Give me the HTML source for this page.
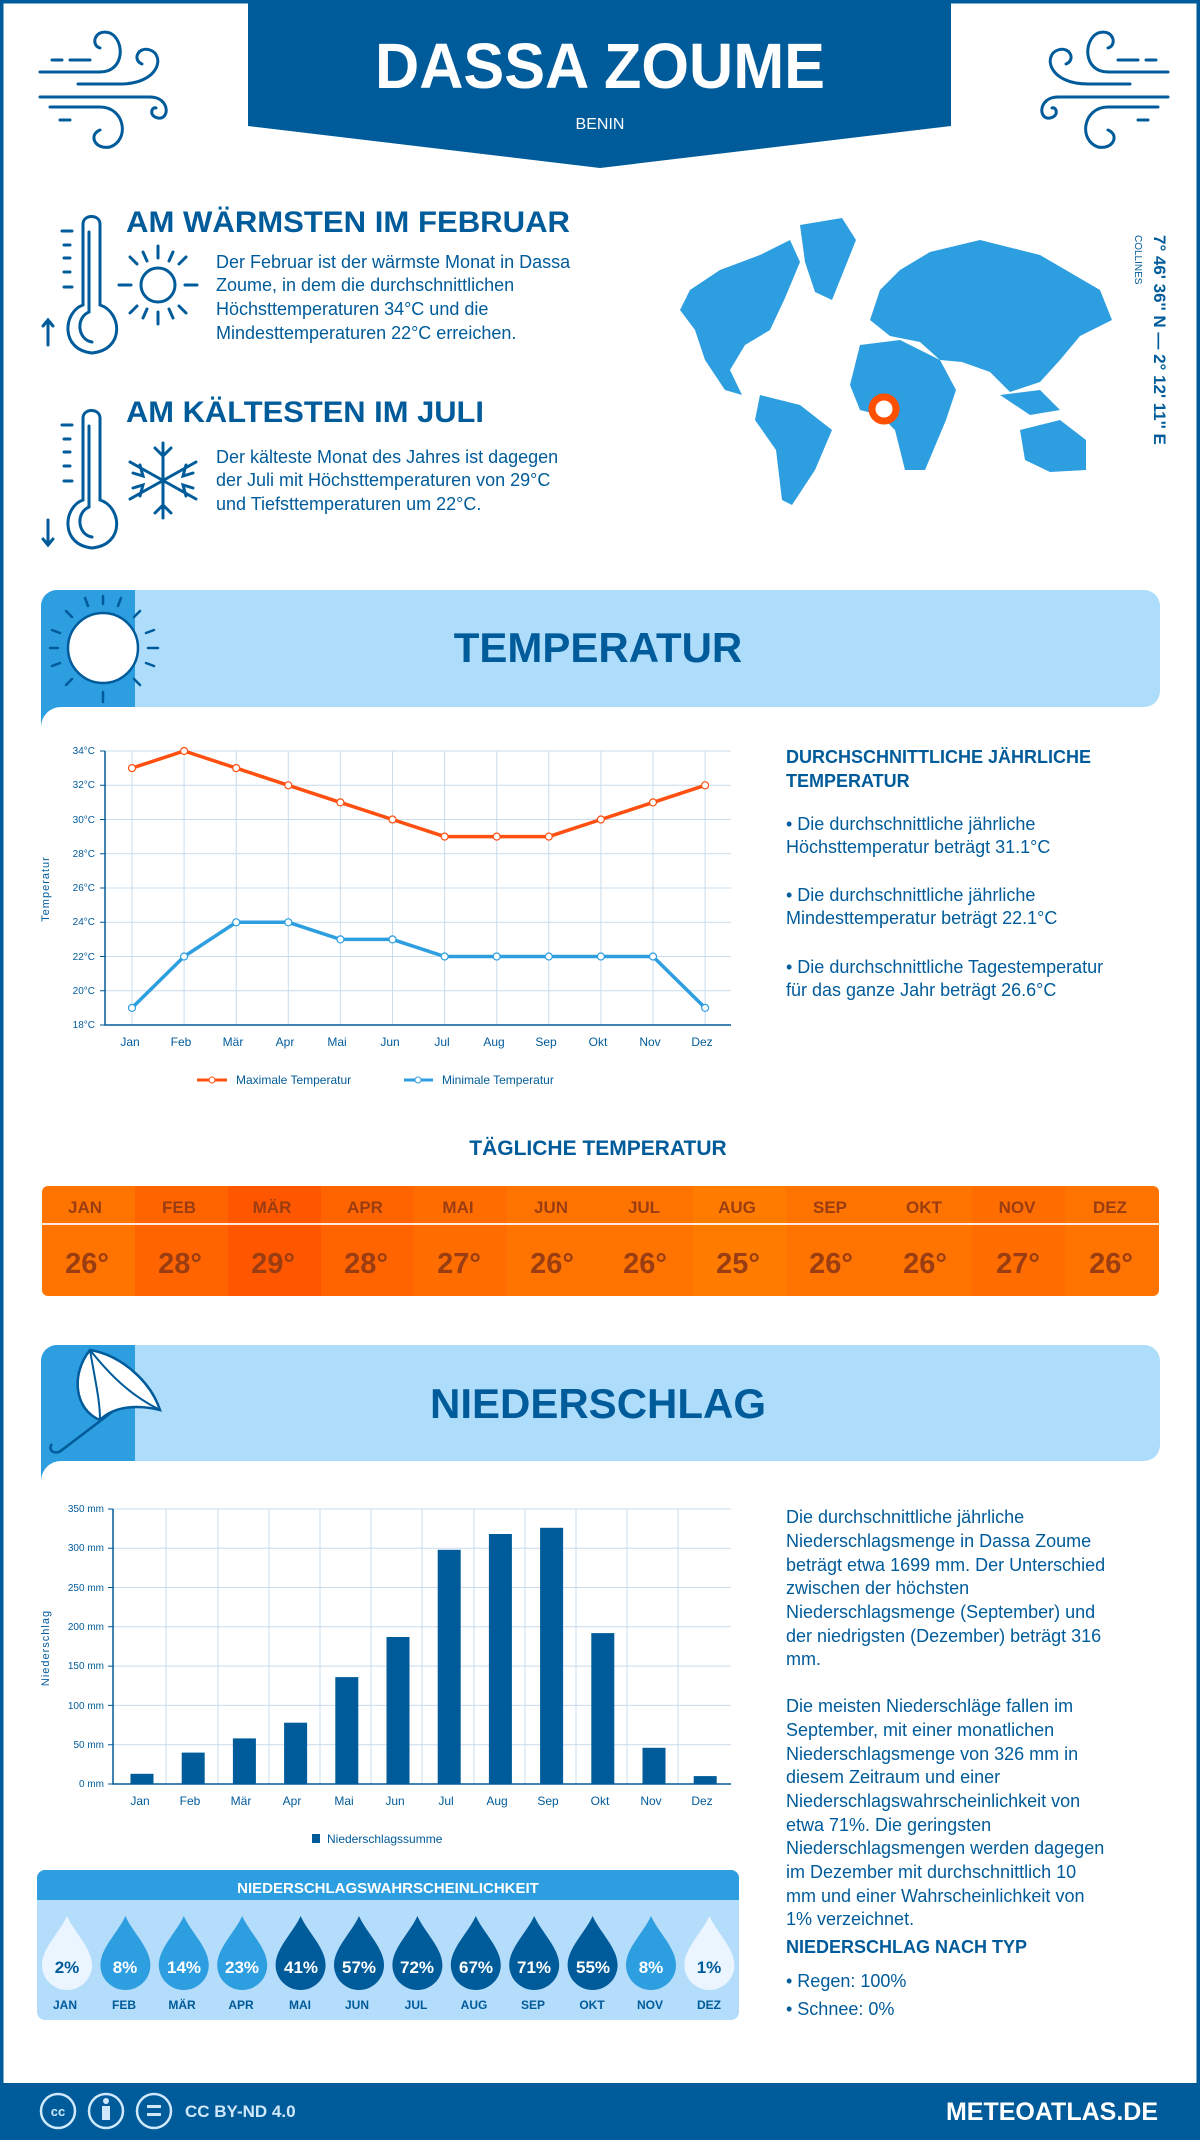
<!DOCTYPE html>
<html><head><meta charset="utf-8">
<style>
html,body{margin:0;padding:0;background:#fff}
svg{display:block}
text{font-family:"Liberation Sans",sans-serif}
</style></head>
<body>
<svg width="1200" height="2140" viewBox="0 0 1200 2140" xmlns="http://www.w3.org/2000/svg">
<rect x="1.5" y="1.5" width="1197" height="2137" fill="#fff" stroke="#005b9a" stroke-width="4"/>
<!-- header banner -->
<path d="M248,0 H951 V126 L600,168 L248,126 Z" fill="#005b9a"/>
<text x="600" y="88" text-anchor="middle" font-size="64" font-weight="bold" fill="#fff" textLength="450" lengthAdjust="spacingAndGlyphs">DASSA ZOUME</text>
<text x="600" y="129" text-anchor="middle" font-size="16" fill="#fff">BENIN</text>
<!-- wind icons -->
<g fill="none" stroke="#005b9a" stroke-width="3" stroke-linecap="round">
 <g id="wind">
 <path d="M40,72 H100 M52,60 H62 M70,60 H90 M78,84 H120 M40,97 H150 M50,107 H70 M60,120 H70"/>
 <path d="M100,72 C125,72 125,40 110,33 C95,28 90,45 100,48"/>
 <path d="M120,84 C160,84 165,55 150,50 C138,46 132,60 142,64"/>
 <path d="M150,97 C170,97 170,120 158,118 C148,116 152,106 156,108"/>
 <path d="M70,107 H100 C125,107 130,140 110,147 C95,150 88,135 100,130"/>
 </g>
 <use href="#wind" transform="translate(1208,0) scale(-1,1)"/>
</g>
<!-- warm section -->
<g fill="none" stroke="#005b9a" stroke-width="3" stroke-linecap="round">
 <path d="M83,224 C83,214 100,214 100,224 V305 C122,312 125,350 92,353 C60,350 63,312 83,305 Z"/>
 <path d="M89,232 V312 C75,318 78,340 92,342"/>
 <path d="M62,231 H72 M64,245 H70 M64,258 H70 M64,272 H70 M64,287 H72"/>
 <path d="M48,345 V320 M43,326 L48,320 L53,326"/>
 <circle cx="158" cy="285" r="17"/>
 <path d="M158,246 V258 M158,312 V324 M119,285 H131 M185,285 H197 M130,257 L137,264 M179,306 L186,313 M186,257 L179,264 M137,306 L130,313 M143,252 L147,261 M169,309 L173,318 M173,252 L169,261 M147,309 L143,318"/>
 <path d="M83,418 C83,408 100,408 100,418 V500 C122,507 125,545 92,548 C60,545 63,507 83,500 Z"/>
 <path d="M89,426 V507 C75,513 78,535 92,537"/>
 <path d="M62,425 H72 M64,439 H70 M64,452 H70 M64,466 H70 M64,481 H72"/>
 <path d="M48,520 V545 M43,539 L48,545 L53,539"/>
 <path d="M163,443 V518 M130,462 L196,499 M196,462 L130,499 M155,448 L163,456 L171,448 M155,513 L163,505 L171,513 M133,473 L143,476 L140,465 M193,473 L183,476 L186,465 M133,488 L143,485 L140,496 M193,488 L183,485 L186,496"/>
</g>
<text x="126" y="232" font-size="30" font-weight="bold" fill="#005b9a" textLength="444" lengthAdjust="spacingAndGlyphs">AM WÄRMSTEN IM FEBRUAR</text>
<g font-size="18" fill="#005b9a">
<text x="216" y="268">Der Februar ist der wärmste Monat in Dassa</text>
<text x="216" y="291">Zoume, in dem die durchschnittlichen</text>
<text x="216" y="315">Höchsttemperaturen 34°C und die</text>
<text x="216" y="339">Mindesttemperaturen 22°C erreichen.</text>
</g>
<text x="126" y="422" font-size="30" font-weight="bold" fill="#005b9a" textLength="358" lengthAdjust="spacingAndGlyphs">AM KÄLTESTEN IM JULI</text>
<g font-size="18" fill="#005b9a">
<text x="216" y="463">Der kälteste Monat des Jahres ist dagegen</text>
<text x="216" y="486">der Juli mit Höchsttemperaturen von 29°C</text>
<text x="216" y="510">und Tiefsttemperaturen um 22°C.</text>
</g>
<!-- map -->
<g fill="#2d9ee0">
<path d="M690,290 L720,270 L760,255 L790,240 L800,262 L785,298 L770,330 L745,345 L730,370 L742,395 L725,390 L705,360 L695,330 L680,310 Z"/>
<path d="M800,225 L842,218 L856,240 L832,300 L815,292 L805,262 Z"/>
<path d="M760,395 L800,405 L832,430 L815,470 L792,505 L782,500 L776,450 L755,420 Z"/>
<path d="M870,320 L880,290 L900,270 L930,252 L980,240 L1040,255 L1100,290 L1112,320 L1080,336 L1060,360 L1040,382 L1010,392 L990,372 L962,362 L940,360 L920,342 L890,336 Z"/>
<path d="M860,345 L900,340 L940,360 L956,390 L946,420 L925,470 L905,470 L895,430 L880,415 L860,410 L850,385 Z"/>
<path d="M1020,430 L1060,420 L1086,440 L1086,470 L1050,472 L1025,460 Z"/>
<path d="M1000,395 L1040,390 L1060,410 L1030,415 Z"/>
</g>
<circle cx="884" cy="409" r="12" fill="#fff" stroke="#ff4f00" stroke-width="7"/>
<text transform="translate(1154,235) rotate(90)" font-size="17" font-weight="bold" fill="#005b9a">7° 46' 36'' N — 2° 12' 11'' E</text>
<text transform="translate(1135,235) rotate(90)" font-size="10" fill="#005b9a">COLLINES</text>

<!-- temperature banner -->
<rect x="41" y="590" width="1119" height="117" rx="16" fill="#aedcfb"/>
<path d="M57,590 H135 V707 H41 V606 A16,16 0 0 1 57,590 Z" fill="#2d9ee0"/>
<path d="M41,727 V707 H61 A20,20 0 0 0 41,727 Z" fill="#2d9ee0"/>
<circle cx="103" cy="648" r="35" fill="#fff" stroke="#005b9a" stroke-width="2.5"/>
<g stroke="#005b9a" stroke-width="2.5" stroke-linecap="round">
<path d="M103,596 V604 M103,692 V702 M50,648 H58 M148,648 H158 M66,611 L72,617 M134,679 L140,685 M140,611 L134,617 M72,679 L66,685 M85,598 L88,606 M121,598 L118,606 M52,630 L60,633 M52,666 L60,663 M154,630 L146,633 M154,666 L146,663"/>
</g>
<text x="598" y="662" text-anchor="middle" font-size="42" font-weight="bold" fill="#005b9a">TEMPERATUR</text>

<!-- temperature chart -->
<g stroke="#c8dced" stroke-width="1">
<path d="M105,751 H731 M105,785.25 H731 M105,819.5 H731 M105,853.75 H731 M105,888 H731 M105,922.25 H731 M105,956.5 H731 M105,990.75 H731"/>
<path d="M132,751 V1025 M184.1,751 V1025 M236.2,751 V1025 M288.3,751 V1025 M340.4,751 V1025 M392.5,751 V1025 M444.6,751 V1025 M496.7,751 V1025 M548.8,751 V1025 M600.9,751 V1025 M653,751 V1025 M705.1,751 V1025"/>
</g>
<path d="M105,751 V1025 H731" fill="none" stroke="#005b9a" stroke-width="1.5"/>
<path d="M100,751 H105 M100,785.25 H105 M100,819.5 H105 M100,853.75 H105 M100,888 H105 M100,922.25 H105 M100,956.5 H105 M100,990.75 H105 M100,1025 H105" stroke="#005b9a"/>
<g font-size="10" fill="#005b9a" text-anchor="end">
<text x="95" y="754">34°C</text><text x="95" y="788">32°C</text><text x="95" y="823">30°C</text><text x="95" y="857">28°C</text><text x="95" y="891">26°C</text><text x="95" y="925">24°C</text><text x="95" y="960">22°C</text><text x="95" y="994">20°C</text><text x="95" y="1028">18°C</text>
</g>
<text transform="translate(49,889) rotate(-90)" text-anchor="middle" font-size="11" fill="#005b9a" letter-spacing="1">Temperatur</text>
<g font-size="12" fill="#005b9a" text-anchor="middle">
<text x="130" y="1046">Jan</text><text x="181" y="1046">Feb</text><text x="233" y="1046">Mär</text><text x="285" y="1046">Apr</text><text x="337" y="1046">Mai</text><text x="390" y="1046">Jun</text><text x="442" y="1046">Jul</text><text x="494" y="1046">Aug</text><text x="546" y="1046">Sep</text><text x="598" y="1046">Okt</text><text x="650" y="1046">Nov</text><text x="702" y="1046">Dez</text>
</g>
<polyline points="132,768.1 184.1,751 236.2,768.1 288.3,785.3 340.4,802.4 392.5,819.5 444.6,836.6 496.7,836.6 548.8,836.6 600.9,819.5 653,802.4 705.1,785.3" fill="none" stroke="#ff5011" stroke-width="3.5"/>
<polyline points="132,1007.9 184.1,956.5 236.2,922.3 288.3,922.3 340.4,939.4 392.5,939.4 444.6,956.5 496.7,956.5 548.8,956.5 600.9,956.5 653,956.5 705.1,1007.9" fill="none" stroke="#2d9ee0" stroke-width="3.5"/>
<g fill="#fff" stroke="#ff5011" stroke-width="1.2">
<circle cx="132" cy="768.1" r="3.5"/><circle cx="184.1" cy="751" r="3.5"/><circle cx="236.2" cy="768.1" r="3.5"/><circle cx="288.3" cy="785.3" r="3.5"/><circle cx="340.4" cy="802.4" r="3.5"/><circle cx="392.5" cy="819.5" r="3.5"/><circle cx="444.6" cy="836.6" r="3.5"/><circle cx="496.7" cy="836.6" r="3.5"/><circle cx="548.8" cy="836.6" r="3.5"/><circle cx="600.9" cy="819.5" r="3.5"/><circle cx="653" cy="802.4" r="3.5"/><circle cx="705.1" cy="785.3" r="3.5"/>
</g>
<g fill="#fff" stroke="#2d9ee0" stroke-width="1.2">
<circle cx="132" cy="1007.9" r="3.5"/><circle cx="184.1" cy="956.5" r="3.5"/><circle cx="236.2" cy="922.3" r="3.5"/><circle cx="288.3" cy="922.3" r="3.5"/><circle cx="340.4" cy="939.4" r="3.5"/><circle cx="392.5" cy="939.4" r="3.5"/><circle cx="444.6" cy="956.5" r="3.5"/><circle cx="496.7" cy="956.5" r="3.5"/><circle cx="548.8" cy="956.5" r="3.5"/><circle cx="600.9" cy="956.5" r="3.5"/><circle cx="653" cy="956.5" r="3.5"/><circle cx="705.1" cy="1007.9" r="3.5"/>
</g>
<path d="M197,1080 H227" stroke="#ff5011" stroke-width="3"/><circle cx="212" cy="1080" r="3" fill="#fff" stroke="#ff5011"/>
<text x="236" y="1084" font-size="12" fill="#005b9a">Maximale Temperatur</text>
<path d="M404,1080 H433" stroke="#2d9ee0" stroke-width="3"/><circle cx="418" cy="1080" r="3" fill="#fff" stroke="#2d9ee0"/>
<text x="442" y="1084" font-size="12" fill="#005b9a">Minimale Temperatur</text>

<text x="786" y="763" font-size="18" font-weight="bold" fill="#005b9a">DURCHSCHNITTLICHE JÄHRLICHE</text>
<text x="786" y="787" font-size="18" font-weight="bold" fill="#005b9a">TEMPERATUR</text>
<g font-size="18" fill="#005b9a">
<text x="786" y="830">• Die durchschnittliche jährliche</text>
<text x="786" y="853">Höchsttemperatur beträgt 31.1°C</text>
<text x="786" y="901">• Die durchschnittliche jährliche</text>
<text x="786" y="924">Mindesttemperatur beträgt 22.1°C</text>
<text x="786" y="973">• Die durchschnittliche Tagestemperatur</text>
<text x="786" y="996">für das ganze Jahr beträgt 26.6°C</text>
</g>

<text x="598" y="1155" text-anchor="middle" font-size="21" font-weight="bold" fill="#005b9a">TÄGLICHE TEMPERATUR</text>
<!-- daily table -->
<clipPath id="tc"><rect x="42" y="1186" width="1117" height="110" rx="6"/></clipPath>
<g clip-path="url(#tc)">
<rect x="42" y="1186" width="94" height="110" fill="#ff7400"/>
<rect x="135" y="1186" width="94" height="110" fill="#ff6400"/>
<rect x="228" y="1186" width="94" height="110" fill="#ff5700"/>
<rect x="321" y="1186" width="94" height="110" fill="#ff6400"/>
<rect x="414" y="1186" width="94" height="110" fill="#ff6c00"/>
<rect x="507" y="1186" width="94" height="110" fill="#ff7400"/>
<rect x="600" y="1186" width="94" height="110" fill="#ff7400"/>
<rect x="693" y="1186" width="94" height="110" fill="#ff7c00"/>
<rect x="786" y="1186" width="94" height="110" fill="#ff7400"/>
<rect x="879" y="1186" width="94" height="110" fill="#ff7400"/>
<rect x="972" y="1186" width="94" height="110" fill="#ff6c00"/>
<rect x="1065" y="1186" width="94" height="110" fill="#ff7400"/>
</g>
<rect x="42" y="1223" width="1117" height="2" fill="#fff" opacity="0.85"/>
<g font-size="17" font-weight="bold" fill="#9a3d12" text-anchor="middle">
<text x="85" y="1213">JAN</text><text x="179" y="1213">FEB</text><text x="272" y="1213">MÄR</text><text x="365" y="1213">APR</text><text x="458" y="1213">MAI</text><text x="551" y="1213">JUN</text><text x="644" y="1213">JUL</text><text x="737" y="1213">AUG</text><text x="830" y="1213">SEP</text><text x="924" y="1213">OKT</text><text x="1017" y="1213">NOV</text><text x="1110" y="1213">DEZ</text>
</g>
<g font-size="29" font-weight="bold" fill="#9a3d12" text-anchor="middle">
<text x="87" y="1273">26°</text><text x="180" y="1273">28°</text><text x="273" y="1273">29°</text><text x="366" y="1273">28°</text><text x="459" y="1273">27°</text><text x="552" y="1273">26°</text><text x="645" y="1273">26°</text><text x="738" y="1273">25°</text><text x="831" y="1273">26°</text><text x="925" y="1273">26°</text><text x="1018" y="1273">27°</text><text x="1111" y="1273">26°</text>
</g>

<!-- precipitation banner -->
<rect x="41" y="1345" width="1119" height="116" rx="16" fill="#aedcfb"/>
<path d="M57,1345 H135 V1461 H41 V1361 A16,16 0 0 1 57,1345 Z" fill="#2d9ee0"/>
<path d="M41,1481 V1461 H61 A20,20 0 0 0 41,1481 Z" fill="#2d9ee0"/>
<path d="M90,1350 C70,1375 75,1410 100,1420 C115,1405 140,1405 160,1410 C150,1380 120,1355 90,1350 Z" fill="#fff" stroke="#005b9a" stroke-width="2.5"/>
<path d="M90,1350 C95,1380 100,1400 100,1420 M90,1350 C110,1375 130,1395 160,1410" fill="none" stroke="#005b9a" stroke-width="2"/>
<path d="M112,1412 L62,1450 C55,1456 47,1450 52,1444" fill="none" stroke="#005b9a" stroke-width="2.5"/>
<text x="598" y="1418" text-anchor="middle" font-size="42" font-weight="bold" fill="#005b9a">NIEDERSCHLAG</text>

<!-- bar chart -->
<g stroke="#c8dced" stroke-width="1">
<path d="M113,1509 H731 M113,1548.2 H731 M113,1587.5 H731 M113,1626.8 H731 M113,1666.1 H731 M113,1705.4 H731 M113,1744.7 H731"/>
<path d="M166,1509 V1784 M218,1509 V1784 M269,1509 V1784 M320,1509 V1784 M371,1509 V1784 M422,1509 V1784 M474,1509 V1784 M525,1509 V1784 M576,1509 V1784 M627,1509 V1784 M678,1509 V1784"/>
</g>
<path d="M113,1509 V1784 H731" fill="none" stroke="#005b9a" stroke-width="1.5"/>
<path d="M108,1509 H113 M108,1548.2 H113 M108,1587.5 H113 M108,1626.8 H113 M108,1666.1 H113 M108,1705.4 H113 M108,1744.7 H113 M108,1784 H113" stroke="#005b9a"/>
<g font-size="10" fill="#005b9a" text-anchor="end">
<text x="104" y="1512">350 mm</text><text x="104" y="1551">300 mm</text><text x="104" y="1591">250 mm</text><text x="104" y="1630">200 mm</text><text x="104" y="1669">150 mm</text><text x="104" y="1709">100 mm</text><text x="104" y="1748">50 mm</text><text x="104" y="1787">0 mm</text>
</g>
<text transform="translate(49,1648) rotate(-90)" text-anchor="middle" font-size="11" fill="#005b9a" letter-spacing="1">Niederschlag</text>
<g fill="#005b9a">
<rect x="130.5" y="1773.8" width="23" height="10.2"/>
<rect x="181.7" y="1752.6" width="23" height="31.4"/>
<rect x="232.9" y="1738.4" width="23" height="45.6"/>
<rect x="284.1" y="1722.7" width="23" height="61.3"/>
<rect x="335.3" y="1677.1" width="23" height="106.9"/>
<rect x="386.5" y="1637" width="23" height="147"/>
<rect x="437.7" y="1549.8" width="23" height="234.2"/>
<rect x="488.9" y="1534" width="23" height="250"/>
<rect x="540.1" y="1527.8" width="23" height="256.2"/>
<rect x="591.3" y="1633.1" width="23" height="150.9"/>
<rect x="642.5" y="1747.8" width="23" height="36.2"/>
<rect x="693.7" y="1776.1" width="23" height="7.9"/>
</g>
<g font-size="12" fill="#005b9a" text-anchor="middle">
<text x="140" y="1805">Jan</text><text x="190" y="1805">Feb</text><text x="241" y="1805">Mär</text><text x="292" y="1805">Apr</text><text x="344" y="1805">Mai</text><text x="395" y="1805">Jun</text><text x="446" y="1805">Jul</text><text x="497" y="1805">Aug</text><text x="548" y="1805">Sep</text><text x="600" y="1805">Okt</text><text x="651" y="1805">Nov</text><text x="702" y="1805">Dez</text>
</g>
<rect x="312" y="1834" width="8" height="9" fill="#005b9a"/>
<text x="327" y="1843" font-size="12" fill="#005b9a">Niederschlagssumme</text>

<!-- right precip text -->
<g font-size="18" fill="#005b9a">
<text x="786" y="1523">Die durchschnittliche jährliche</text>
<text x="786" y="1547">Niederschlagsmenge in Dassa Zoume</text>
<text x="786" y="1571">beträgt etwa 1699 mm. Der Unterschied</text>
<text x="786" y="1594">zwischen der höchsten</text>
<text x="786" y="1618">Niederschlagsmenge (September) und</text>
<text x="786" y="1642">der niedrigsten (Dezember) beträgt 316</text>
<text x="786" y="1665">mm.</text>
<text x="786" y="1712">Die meisten Niederschläge fallen im</text>
<text x="786" y="1736">September, mit einer monatlichen</text>
<text x="786" y="1760">Niederschlagsmenge von 326 mm in</text>
<text x="786" y="1783">diesem Zeitraum und einer</text>
<text x="786" y="1807">Niederschlagswahrscheinlichkeit von</text>
<text x="786" y="1831">etwa 71%. Die geringsten</text>
<text x="786" y="1854">Niederschlagsmengen werden dagegen</text>
<text x="786" y="1878">im Dezember mit durchschnittlich 10</text>
<text x="786" y="1902">mm und einer Wahrscheinlichkeit von</text>
<text x="786" y="1925">1% verzeichnet.</text>
</g>
<text x="786" y="1953" font-size="18" font-weight="bold" fill="#005b9a">NIEDERSCHLAG NACH TYP</text>
<g font-size="18" fill="#005b9a">
<text x="786" y="1987">• Regen: 100%</text>
<text x="786" y="2015">• Schnee: 0%</text>
</g>

<!-- probability box -->
<rect x="37" y="1870" width="702" height="150" rx="8" fill="#b4dcfb"/>
<path d="M45,1870 H731 A8,8 0 0 1 739,1878 V1900 H37 V1878 A8,8 0 0 1 45,1870 Z" fill="#2d9ee0"/>
<text x="388" y="1893" text-anchor="middle" font-size="15" font-weight="bold" fill="#fff">NIEDERSCHLAGSWAHRSCHEINLICHKEIT</text>
<g id="drops">
<path d="M67,1916 C74,1932 92,1948 92,1965 A25,25 0 0 1 42,1965 C42,1948 60,1932 67,1916 Z" fill="#eaf5ff"/>
<path d="M125.4,1916 C132.4,1932 150.4,1948 150.4,1965 A25,25 0 0 1 100.4,1965 C100.4,1948 118.4,1932 125.4,1916 Z" fill="#2d9ee0"/>
<path d="M183.8,1916 C190.8,1932 208.8,1948 208.8,1965 A25,25 0 0 1 158.8,1965 C158.8,1948 176.8,1932 183.8,1916 Z" fill="#2d9ee0"/>
<path d="M242.2,1916 C249.2,1932 267.2,1948 267.2,1965 A25,25 0 0 1 217.2,1965 C217.2,1948 235.2,1932 242.2,1916 Z" fill="#2d9ee0"/>
<path d="M300.6,1916 C307.6,1932 325.6,1948 325.6,1965 A25,25 0 0 1 275.6,1965 C275.6,1948 293.6,1932 300.6,1916 Z" fill="#005b9a"/>
<path d="M359,1916 C366,1932 384,1948 384,1965 A25,25 0 0 1 334,1965 C334,1948 352,1932 359,1916 Z" fill="#005b9a"/>
<path d="M417.4,1916 C424.4,1932 442.4,1948 442.4,1965 A25,25 0 0 1 392.4,1965 C392.4,1948 410.4,1932 417.4,1916 Z" fill="#005b9a"/>
<path d="M475.8,1916 C482.8,1932 500.8,1948 500.8,1965 A25,25 0 0 1 450.8,1965 C450.8,1948 468.8,1932 475.8,1916 Z" fill="#005b9a"/>
<path d="M534.2,1916 C541.2,1932 559.2,1948 559.2,1965 A25,25 0 0 1 509.2,1965 C509.2,1948 527.2,1932 534.2,1916 Z" fill="#005b9a"/>
<path d="M592.6,1916 C599.6,1932 617.6,1948 617.6,1965 A25,25 0 0 1 567.6,1965 C567.6,1948 585.6,1932 592.6,1916 Z" fill="#005b9a"/>
<path d="M651,1916 C658,1932 676,1948 676,1965 A25,25 0 0 1 626,1965 C626,1948 644,1932 651,1916 Z" fill="#2d9ee0"/>
<path d="M709.4,1916 C716.4,1932 734.4,1948 734.4,1965 A25,25 0 0 1 684.4,1965 C684.4,1948 702.4,1932 709.4,1916 Z" fill="#eaf5ff"/>
</g>
<g font-size="17" font-weight="bold" text-anchor="middle" fill="#fff">
<text x="67" y="1973" fill="#005b9a">2%</text><text x="125" y="1973">8%</text><text x="184" y="1973">14%</text><text x="242" y="1973">23%</text><text x="301" y="1973">41%</text><text x="359" y="1973">57%</text><text x="417" y="1973">72%</text><text x="476" y="1973">67%</text><text x="534" y="1973">71%</text><text x="593" y="1973">55%</text><text x="651" y="1973">8%</text><text x="709" y="1973" fill="#005b9a">1%</text>
</g>
<g font-size="12" font-weight="bold" text-anchor="middle" fill="#005b9a">
<text x="65" y="2009">JAN</text><text x="124" y="2009">FEB</text><text x="182" y="2009">MÄR</text><text x="241" y="2009">APR</text><text x="300" y="2009">MAI</text><text x="357" y="2009">JUN</text><text x="416" y="2009">JUL</text><text x="474" y="2009">AUG</text><text x="533" y="2009">SEP</text><text x="592" y="2009">OKT</text><text x="650" y="2009">NOV</text><text x="709" y="2009">DEZ</text>
</g>

<!-- footer -->
<rect x="0" y="2083" width="1200" height="57" fill="#005b9a"/>
<g fill="none" stroke="#cfe8fb" stroke-width="2.5">
<circle cx="58" cy="2111" r="17"/><circle cx="106" cy="2111" r="17"/><circle cx="154" cy="2111" r="17"/>
</g>
<text x="58" y="2116" text-anchor="middle" font-size="13" font-weight="bold" fill="#cfe8fb">cc</text>
<circle cx="106" cy="2101" r="3" fill="#cfe8fb"/><rect x="102" y="2106" width="8" height="14" fill="#cfe8fb"/>
<rect x="147" y="2105" width="14" height="3" fill="#cfe8fb"/><rect x="147" y="2113" width="14" height="3" fill="#cfe8fb"/>
<text x="185" y="2117" font-size="17" font-weight="bold" fill="#cfe8fb">CC BY-ND 4.0</text>
<text x="1158" y="2120" text-anchor="end" font-size="25" font-weight="bold" fill="#fff">METEOATLAS.DE</text>
</svg>
</body></html>
